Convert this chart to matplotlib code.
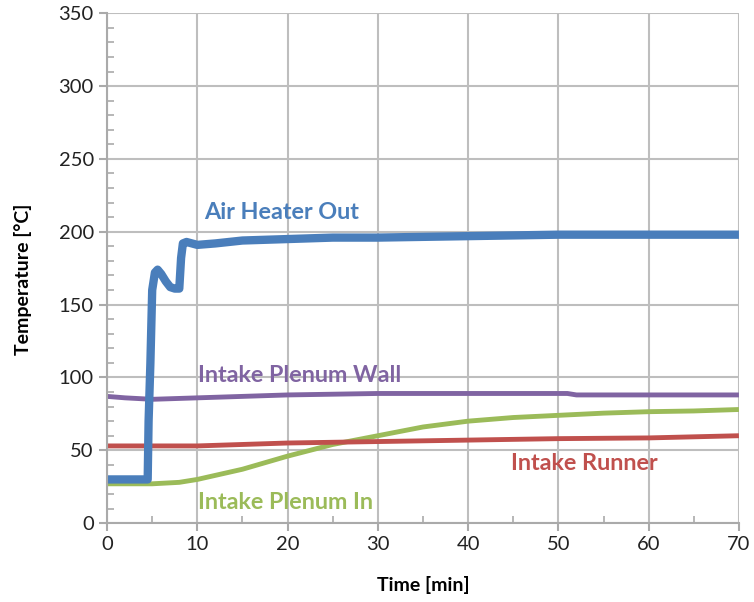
import matplotlib.pyplot as plt
from matplotlib.ticker import MultipleLocator

plt.rcParams['font.family'] = ['Lato', 'DejaVu Sans']

# air heater outlet
t_air = [0, 4.5, 4.6, 4.8, 5.0, 5.3, 5.6, 6.0, 6.5, 7.0, 7.5, 8.0, 8.2, 8.4, 8.8, 10, 12, 15, 20, 25, 30, 40, 50, 60, 70]
T_air = [30, 30, 70, 110, 160, 172, 174, 171, 166, 162, 161, 161, 182, 192, 193, 191, 192, 194, 195, 196, 196, 197, 198, 198, 198]

# intake plenum wall
t_wall = [0, 2, 5, 10, 15, 20, 30, 40, 51, 52, 60, 70]
T_wall = [87, 86, 85, 86, 87, 88, 89, 89, 89, 88, 88, 88]

# intake runner
t_run = [0, 10, 20, 30, 40, 50, 60, 70]
T_run = [53, 53, 55, 56, 57, 58, 58.5, 60]

# intake plenum inlet
t_in = [0, 5, 8, 10, 15, 20, 25, 30, 35, 40, 45, 50, 55, 60, 65, 70]
T_in = [27, 27, 28, 30, 37, 46, 54, 60, 66, 70, 72.5, 74, 75.5, 76.5, 77, 78]

blue = '#4A7EBB'
purple = '#8064A2'
red = '#C0504D'
green = '#9BBB59'

fig = plt.figure(figsize=(7.54, 6.02), dpi=100)
ax = fig.add_axes([0.142, 0.131, 0.838, 0.847])

ax.plot(t_wall, T_wall, color=purple, lw=3.5, solid_capstyle='butt')
ax.plot(t_in, T_in, color=green, lw=3.5, solid_capstyle='butt')
ax.plot(t_run, T_run, color=red, lw=3.5, solid_capstyle='butt')
ax.plot(t_air, T_air, color=blue, lw=6, solid_capstyle='butt')

ax.set_xlim(0, 70)
ax.set_ylim(0, 350)
ax.xaxis.set_major_locator(MultipleLocator(10))
ax.xaxis.set_minor_locator(MultipleLocator(5))
ax.yaxis.set_major_locator(MultipleLocator(50))
ax.yaxis.set_minor_locator(MultipleLocator(10))
ax.grid(True, which='major', color='#BEBEBE', lw=1.5)
ax.set_axisbelow(True)
for s in ax.spines.values():
    s.set_visible(False)
for side in ('left', 'bottom'):
    ax.spines[side].set_visible(True)
    ax.spines[side].set_color('#AAAAAA')
    ax.spines[side].set_linewidth(1.5)
ax.tick_params(which='major', direction='out', length=6, width=1.5, color='#AAAAAA',
               labelsize=14.5, labelcolor='#222222')
ax.tick_params(which='minor', direction='in', length=5, width=1.2, color='#AAAAAA')

ax.set_xlabel('Time [min]', fontsize=14, fontweight='bold')
ax.set_ylabel('Temperature [°C]', fontsize=14, fontweight='bold')
ax.xaxis.set_label_coords(0.5, -0.103)
ax.yaxis.set_label_coords(-0.119, 0.478)

ax.text(10.8, 213, 'Air Heater Out', color=blue, fontsize=16.8, fontweight='bold', va='center')
ax.text(10.1, 101, 'Intake Plenum Wall', color=purple, fontsize=16.8, fontweight='bold', va='center')
ax.text(44.7, 41, 'Intake Runner', color=red, fontsize=16.8, fontweight='bold', va='center')
ax.text(10.1, 14, 'Intake Plenum In', color=green, fontsize=16.8, fontweight='bold', va='center')

fig.savefig('out.png', dpi=100)
